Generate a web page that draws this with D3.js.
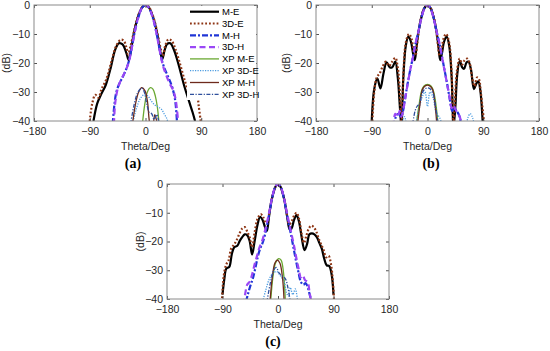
<!DOCTYPE html>
<html><head><meta charset="utf-8">
<script src="https://cdn.jsdelivr.net/npm/d3@7"></script>
<style>body{margin:0;background:#fff}</style>
</head><body>
<svg id="chart" width="550" height="351"></svg>
<script>
// ---------- data ----------
const thetaTicks = [-180, -90, 0, 90, 180];
const dbTicks = [0, -10, -20, -30, -40];
const seriesNames = ["M-E", "3D-E", "M-H", "3D-H", "XP M-E", "XP 3D-E", "XP M-H", "XP 3D-H"];
const panelLabels = ["(a)", "(b)", "(c)"];
const xLabel = "Theta/Deg";
const yLabel = "(dB)";

// panel (a)  [theta (deg), level (dB)]
const aME = [[-84,-40],[-78,-34],[-72,-31],[-64,-27.5],[-56,-21.5],[-49,-15.5],[-43,-13.2],[-37,-13.6],[-31,-16.5],[-27,-19],[-23,-15],[-19,-10],[-15,-6.2],[-10,-2.8],[-5,-0.7],[0,0],[5,-0.7],[10,-2.8],[15,-6.2],[19,-10],[23,-15],[27,-18.7],[31,-15.5],[35,-13.4],[40,-13.2],[46,-15.5],[54,-21],[62,-27.5],[70,-33],[76,-37],[80,-40]];
const a3DE = [[-90,-40],[-86,-34],[-81,-31],[-76,-32],[-71,-29],[-63,-25.5],[-55,-19.5],[-47,-14],[-40,-12],[-35,-12.3],[-31,-14.5],[-28,-17],[-24,-14],[-19,-9.5],[-15,-5.8],[-10,-2.6],[-5,-0.6],[0,0],[5,-0.6],[10,-2.6],[15,-5.8],[19,-9.5],[24,-14.5],[28,-17.5],[32,-14],[37,-11.8],[42,-12.3],[48,-15],[56,-20.5],[64,-26.5],[72,-31],[78,-32],[83,-31.5],[86,-35],[89,-40]];
const aMH = [[-53,-41],[-50,-34],[-47,-30],[-42,-27],[-36,-24.5],[-31,-22],[-27,-19.5],[-23,-15.5],[-19,-11],[-15,-7],[-10,-3.2],[-5,-0.8],[0,0],[5,-0.8],[10,-3.2],[15,-7],[19,-11],[23,-15.5],[27,-19.5],[31,-22],[35,-24],[40,-26.5],[44,-29],[48,-33],[51,-41]];
const a3DH = [[-51,-41],[-49,-34],[-45,-29],[-40,-26],[-34,-23.5],[-29,-21],[-25,-18],[-21,-13.5],[-17,-9],[-12,-4.5],[-6,-1.1],[0,0],[6,-1.1],[12,-4.5],[17,-9],[21,-13.5],[25,-18],[29,-21.5],[34,-24.5],[40,-27.5],[45,-29.5],[49,-33],[53,-41]];
const aXPME = [[-5,-41],[-1,-34],[3,-30],[8,-28.5],[12,-29],[16,-31.5],[19,-35],[22,-41]];
const aXP3DE = [[-21,-41],[-15,-36],[-9,-32.5],[-3,-31],[3,-31.2],[9,-33],[15,-34.5],[21,-35.2],[26,-36],[30,-37.5],[34,-39],[37,-41]];
const aXPMH = [[-21,-41],[-16,-34],[-11,-30],[-6,-28.5],[-1,-29.5],[3,-33],[7,-41],[11,-43],[15,-37.8],[19,-41]];
const aXP3DH = [[-24,-41],[-18,-34],[-12,-30],[-6,-28.7],[-2,-30],[2,-34],[6,-37],[10,-37.5],[14,-39.5],[18,-37.8],[22,-41]];

// panel (b)
const bME = [[-90,-40],[-86,-29],[-81,-25.3],[-76,-28.8],[-71,-23.5],[-66,-19.8],[-61,-21.5],[-57,-21.5],[-52,-19.5],[-48,-25],[-44,-37],[-42,-42],[-39,-25],[-35,-14],[-31,-10.9],[-27,-12.5],[-23,-17],[-20.5,-19],[-18,-15],[-15,-9.8],[-10,-4.4],[-5,-1.1],[0,0],[5,-1.1],[10,-4.4],[15,-9.8],[18,-15],[20.5,-19],[23,-17],[27,-12.5],[31,-10.9],[35,-14],[39,-25],[42,-42],[45,-35],[48,-24],[52,-19.3],[56,-21.5],[59,-22],[63,-19.8],[66,-19.5],[70,-22],[75,-29],[79,-27],[82,-26.3],[85,-29],[89,-40]];
const b3DE = [[-89,-40],[-86,-30],[-82,-25],[-77,-23.5],[-72,-21],[-67,-19.5],[-62,-21],[-57,-19.5],[-52,-18.2],[-48,-21.5],[-44,-33],[-42,-42],[-39,-24],[-35,-13],[-30,-10],[-26,-11.5],[-22,-16.5],[-19.5,-17.5],[-17,-14],[-14,-8.8],[-10,-4],[-5,-1],[0,0],[5,-1],[10,-4],[14,-8.8],[17,-14],[19.5,-17.5],[22,-16.5],[26,-11.5],[30,-10],[35,-13],[39,-24],[42,-42],[44,-34],[48,-22],[52,-18.5],[56,-20.5],[60,-19],[64,-18.5],[68,-20],[72,-25],[76,-28],[80,-25],[83,-25.5],[86,-30],[91,-40]];
const bMH = [[-54,-42],[-51,-38.5],[-47,-37.5],[-43,-38.5],[-40,-37],[-36,-32],[-32,-27],[-28,-22.5],[-24,-18.5],[-20,-14],[-15,-9.5],[-10,-4.5],[-5,-1.1],[0,0],[5,-1.1],[10,-4.5],[15,-9.5],[20,-14],[24,-18.5],[28,-23],[32,-27.5],[36,-32.5],[40,-36.5],[43,-35.5],[47,-36.5],[51,-38],[55,-42]];
const b3DH = [[-55,-42],[-52,-37.5],[-48,-38.5],[-45,-36.5],[-42,-38.5],[-39,-36],[-35,-31],[-31,-26],[-27,-21.5],[-23,-17.5],[-19,-13],[-14,-8.5],[-9,-3.8],[-4,-0.8],[0,0],[4,-0.8],[9,-3.8],[14,-8.5],[19,-13],[23,-17.5],[27,-22],[31,-26.5],[35,-31],[39,-35.5],[42,-34.5],[45,-36],[48,-37],[52,-38.5],[56,-42]];
const bXPME = [[-18,-41],[-14,-35],[-10,-30],[-6,-28],[0,-27.4],[6,-28],[10,-30],[14,-35],[17,-41]];
const bXP3DE = [[-42,-42],[-37,-38.5],[-32,-42],[-22,-42],[-15,-37],[-9,-32],[-4,-30],[0,-35],[4,-30],[9,-32],[14,-37],[20,-39],[26,-42],[60,-44],[65,-39],[69,-37.5],[73,-39],[77,-44]];
const bXPMH = [[-16,-41],[-12,-34],[-8,-29],[-3,-27.8],[3,-27.8],[8,-29],[12,-34],[15,-41]];
const bXP3DH = [[-24,-41],[-20,-36.5],[-17,-35],[-13,-34],[-9,-30.5],[-4,-28.9],[0,-28.6],[4,-28.9],[9,-30.5],[13,-35],[17,-41]];

// panel (c)
const cME = [[-90,-38.5],[-87,-33],[-84,-29.5],[-79,-28.8],[-75,-24.5],[-71,-22],[-66,-21.5],[-62,-19.8],[-58,-18.5],[-54,-17.5],[-50,-17.8],[-46,-19.8],[-42,-24.5],[-38,-20],[-33,-14],[-29,-11.4],[-25,-12.5],[-21,-15],[-18,-16.3],[-15,-12],[-12,-7.5],[-8,-3.5],[-4,-0.9],[0,0],[4,-0.9],[8,-3.5],[12,-7.5],[15,-11.5],[19,-15.8],[22,-15.5],[26,-12.5],[30,-10.8],[34,-13],[38,-18],[43,-23],[47,-21],[51,-17.5],[55,-17.2],[59,-17.5],[63,-18.5],[67,-20.5],[71,-22.5],[75,-26],[79,-28.3],[83,-28.5],[87,-31.5],[90,-38.5]];
const c3DE = [[-91,-41],[-88,-32],[-84,-28],[-80,-26.5],[-76,-22.5],[-71,-21],[-67,-19.5],[-62,-17],[-58,-15.5],[-54,-15],[-50,-16.5],[-46,-18.5],[-42,-22],[-38,-17],[-33,-12],[-28,-10.5],[-24,-11.5],[-20,-13.5],[-17,-13],[-14,-10],[-11,-6.2],[-7,-2.8],[-3,-0.6],[0,0],[3,-0.6],[7,-2.8],[11,-6.2],[14,-10],[18,-14],[22,-13],[26,-11],[30,-10],[34,-12],[38,-17],[42,-20.5],[46,-18],[50,-15.5],[54,-14.5],[58,-15],[62,-16.5],[66,-19],[70,-21],[74,-23],[78,-25.5],[82,-25],[86,-28],[89,-34],[91,-41]];
const cMH = [[-52,-41],[-49,-38.5],[-45,-35.5],[-41,-33],[-37,-29.5],[-33,-25.5],[-29,-22.5],[-25,-20.5],[-21,-17.5],[-17,-13.5],[-13.5,-9.5],[-10,-5.5],[-5,-1.4],[0,0],[5,-1.4],[10,-5.5],[13.5,-9.5],[17,-13.5],[21,-17.5],[25,-22],[29,-26.5],[33,-30.5],[37,-34],[41,-35],[45,-34.5],[49,-36.5],[52,-39],[55,-41]];
const c3DH = [[-56,-42],[-53,-38],[-50,-35],[-46,-34],[-42,-31.5],[-38,-28],[-34,-25],[-30,-22],[-26,-20],[-22,-17],[-18,-13.5],[-14,-9.5],[-10,-5.2],[-5,-1.3],[0,0],[5,-1.3],[10,-5.2],[14,-9.5],[18,-13.5],[22,-17.5],[26,-21.5],[30,-26],[34,-30],[37,-32.5],[40,-31.8],[44,-33.5],[48,-34],[51,-37.5],[54,-41]];
const cXPME = [[-12,-41],[-8,-32],[-4,-27.5],[1,-26],[5,-26.5],[9,-31],[12,-41]];
const cXP3DE = [[-25,-41],[-20,-37],[-14,-33],[-8,-31],[-2,-30.5],[4,-32],[10,-34],[14,-38],[17,-39],[20,-36],[24,-38.5],[28,-36.5],[32,-41]];
const cXPMH = [[-13,-41],[-9,-32],[-5,-27.5],[-1,-26.5],[3,-27.5],[7,-32],[10,-41]];
const cXP3DH = [[-18,-41],[-12,-34],[-7,-30],[-3,-29],[2,-31],[7,-32],[12,-33],[16,-36],[20,-41]];

const panelSeries = [
  [aME, a3DE, aMH, a3DH, aXPME, aXP3DE, aXPMH, aXP3DH],
  [bME, b3DE, bMH, b3DH, bXPME, bXP3DE, bXPMH, bXP3DH],
  [cME, c3DE, cMH, c3DH, cXPME, cXP3DE, cXPMH, cXP3DH]
];

// ---------- styles / layout ----------
const styles = [
  {color:"#000000", w:2.2, dash:null},
  {color:"#8e3514", w:2.2, dash:"1.8,2"},
  {color:"#1f35d6", w:2.2, dash:"6,2,2,2"},
  {color:"#9a47f5", w:2.2, dash:"6,3.5"},
  {color:"#6aa832", w:1.3, dash:null},
  {color:"#4a9be0", w:1.3, dash:"1.2,1.3"},
  {color:"#6e2a1c", w:1.3, dash:null},
  {color:"#2f4f9c", w:1.3, dash:"4,1.5,1.2,1.5"}
];
const layout = [
  {x0:34, x1:257, y0:5, y1:121, ylx:6, lblX:133},
  {x0:316, x1:539, y0:5, y1:121, ylx:286, lblX:431},
  {x0:167, x1:389, y0:184, y1:299, ylx:140, lblX:273}
];

const svg = d3.select("#chart");
const font = "'Liberation Sans', Arial, sans-serif";

layout.forEach((L, pi) => {
  const x = d3.scaleLinear().domain([-180, 180]).range([L.x0, L.x1]);
  const y = d3.scaleLinear().domain([-40, 0]).range([L.y1, L.y0]);
  const g = svg.append("g");
  const clipId = "clip" + pi;
  svg.append("clipPath").attr("id", clipId).append("rect")
    .attr("x", L.x0).attr("y", L.y0).attr("width", L.x1 - L.x0).attr("height", L.y1 - L.y0);

  const line = d3.line().x(d => x(d[0])).y(d => y(d[1])).curve(d3.curveCatmullRom.alpha(0.5));
  const lines = g.append("g").attr("clip-path", `url(#${clipId})`);
  panelSeries[pi].forEach((data, si) => {
    const s = styles[si];
    lines.append("path").attr("d", line(data))
      .attr("fill", "none").attr("stroke", s.color).attr("stroke-width", s.w)
      .attr("stroke-dasharray", s.dash).attr("stroke-linejoin", "round");
  });

  // axes
  const styleAxis = sel => {
    sel.select(".domain").remove();
    sel.selectAll(".tick line").attr("stroke", "#262626").attr("stroke-width", 0.8);
    sel.selectAll(".tick text").attr("fill", "#262626").style("font-family", font).style("font-size", "10.5px");
  };
  g.append("g").attr("transform", `translate(0,${L.y1})`)
    .call(d3.axisBottom(x).tickValues(thetaTicks).tickSizeInner(-3).tickSizeOuter(0).tickPadding(7).tickFormat(d3.format("d")))
    .call(styleAxis);
  g.append("g").attr("transform", `translate(0,${L.y0})`)
    .call(d3.axisTop(x).tickValues(thetaTicks).tickSizeInner(-3).tickSizeOuter(0).tickFormat(""))
    .call(styleAxis);
  g.append("g").attr("transform", `translate(${L.x0},0)`)
    .call(d3.axisLeft(y).tickValues(dbTicks).tickSizeInner(-3).tickSizeOuter(0).tickPadding(4).tickFormat(d3.format("d")))
    .call(styleAxis);
  g.append("g").attr("transform", `translate(${L.x1},0)`)
    .call(d3.axisRight(y).tickValues(dbTicks).tickSizeInner(-3).tickSizeOuter(0).tickFormat(""))
    .call(styleAxis);
  g.append("rect").attr("x", L.x0).attr("y", L.y0).attr("width", L.x1 - L.x0).attr("height", L.y1 - L.y0)
    .attr("fill", "none").attr("stroke", "#8a8a8a").attr("stroke-width", 1);

  // labels
  g.append("text").attr("x", (L.x0 + L.x1) / 2).attr("y", L.y1 + 28.5).attr("text-anchor", "middle")
    .style("font-family", font).style("font-size", "10.5px").attr("fill", "#262626").text(xLabel);
  g.append("text").attr("transform", `translate(${L.ylx + 4},${(L.y0 + L.y1) / 2}) rotate(-90)`)
    .attr("text-anchor", "middle").style("font-family", font).style("font-size", "10.5px").attr("fill", "#262626").text(yLabel);
  g.append("text").attr("x", L.lblX).attr("y", L.y1 + 46.5).attr("text-anchor", "middle")
    .style("font-family", "'Liberation Serif', 'Times New Roman', serif").style("font-size", "14px").style("font-weight", "bold")
    .attr("fill", "#000").text(panelLabels[pi]);

  // legend in panel (a)
  if (pi === 0) {
    const lg = g.append("g");
    lg.append("rect").attr("x", 187).attr("y", 6).attr("width", 69).attr("height", 94).attr("fill", "#fff");
    seriesNames.forEach((name, i) => {
      const ly = 11.7 + i * 11.8;
      const s = styles[i];
      lg.append("line").attr("x1", 190).attr("x2", 219).attr("y1", ly).attr("y2", ly)
        .attr("stroke", s.color).attr("stroke-width", s.w).attr("stroke-dasharray", s.dash);
      lg.append("text").attr("x", 222).attr("y", ly).attr("dy", "0.35em")
        .style("font-family", font).style("font-size", "9.5px").attr("fill", "#000").text(name);
    });
  }
});
</script>
</body></html>
